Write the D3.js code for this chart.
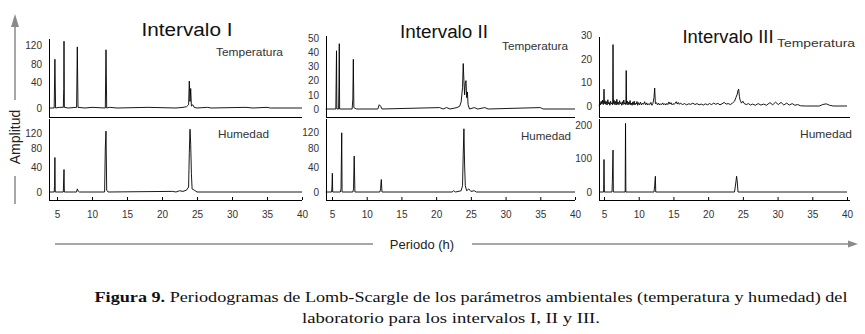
<!DOCTYPE html>
<html>
<head>
<meta charset="utf-8">
<script src="https://cdn.jsdelivr.net/npm/d3@7"></script>
<style>
  body { margin: 0; background: #fff; }
  text { font-family: "Liberation Sans", Arial, sans-serif; }
</style>
</head>
<body>
<script>
// periodo (h) ticks and panel titles
const periodTicks = [5, 10, 15, 20, 25, 30, 35, 40];
const titles = ["Intervalo I", "Intervalo II", "Intervalo III"];

// amplitude tick labels
const tempTicksI = [0, 40, 80, 120];
const tempTicksII = [0, 10, 20, 30, 40, 50];
const tempTicksIII = [0, 10, 20, 30];
const humTicksI = [0, 40, 80, 120];
const humTicksII = [0, 40, 80, 120];
const humTicksIII = [0, 100, 200];

// periodograms, [periodo, amplitud]
const tempI = [[3.9,0],[4.6,0],[4.7,90],[4.8,0],[5.3,1],[5.9,1],[5.97,30],[6.0,128],[6.05,1],[6.6,0],[7.8,1],
  [7.9,116],[8.0,1],[9.0,0],[10,1],[11.9,0],[11.97,76],[12.0,110],[12.1,0],[12.5,1],[13.6,0],[18,1],[22,0],
  [23,1],[23.5,2],[23.8,5],[23.9,42],[24.0,10],[24.1,30],[24.2,3],[24.4,5],[24.6,1],[25,0],[26.5,1],[27,0],
  [32,1],[33,0],[35,1],[35.5,0],[40,0]];
const humI = [[3.9,0],[4.6,0],[4.65,10],[4.7,60],[4.75,0],[5.9,0],[6.0,36],[6.05,0],[7.8,0],[7.9,5],[8.0,2],
  [8.2,0],[11.8,0],[11.9,80],[12.0,125],[12.1,3],[12.3,0],[21.5,1],[22,0],[22.5,2],[23,1],[23.5,3],[23.8,8],
  [23.9,70],[24.0,130],[24.1,90],[24.2,30],[24.3,5],[24.6,3],[25,0],[40,0]];
const tempII = [[4.1,0],[5.55,0],[5.6,20],[5.65,41],[5.7,0],[5.95,0],[6.0,16],[6.05,46],[6.1,0],[7.9,0],
  [8.0,7],[8.07,35],[8.15,1],[8.5,0],[11.6,0],[11.8,3],[12.0,2],[12.2,0],[20.5,1],[21.0,0],[21.5,1],[22,0],
  [23.0,1],[23.4,2],[23.6,5],[23.8,15],[23.9,32],[24.0,20],[24.1,10],[24.2,18],[24.3,20],[24.4,8],[24.5,12],
  [24.6,3],[24.8,0],[25.5,1],[26,0],[27,1],[27.5,0],[35,1],[35.4,0],[40,0]];
const humII = [[4.1,0],[4.95,0],[5.0,10],[5.05,30],[5.1,0],[6.2,0],[6.3,5],[6.4,118],[6.45,0],[8.0,0],
  [8.1,5],[8.2,63],[8.3,0],[11.9,0],[12.0,5],[12.1,20],[12.2,0],[22.3,0],[22.5,2],[22.8,0],[23.6,2],[23.8,10],
  [23.9,67],[24.0,128],[24.1,44],[24.2,10],[24.4,2],[24.7,5],[25.0,1],[25.5,2],[25.8,0],[40,0]];
const tempIII = [[4.3,0],[4.4,1.5],[4.5,0.5],[4.6,2],[4.7,0.8],[4.8,2.5],[4.9,0.6],[4.95,1],[5.0,7],[5.05,1],
  [5.15,2.2],[5.25,0.7],[5.35,1.8],[5.45,0.4],[5.55,2.6],[5.65,0.9],[5.75,1.5],[5.85,0.3],[5.95,2.0],[6.05,0.8],
  [6.15,1.2],[6.25,0.5],[6.3,26],[6.35,1],[6.45,2.4],[6.55,0.6],[6.65,1.9],[6.75,0.4],[6.85,2.8],[6.95,0.7],
  [7.05,1.6],[7.15,0.5],[7.25,2.2],[7.35,0.9],[7.45,1.4],[7.55,0.3],[7.65,1.8],[7.75,0.6],[7.85,2.5],[7.95,0.8],
  [8.05,1.3],[8.15,0.5],[8.2,15],[8.25,1],[8.35,2.1],[8.45,0.4],[8.55,1.6],[8.65,0.7],[8.75,2.3],[8.85,0.5],
  [8.95,1.2],[9.05,0.3],[9.15,1.7],[9.25,0.6],[9.35,2.0],[9.45,0.4],[9.55,1.1],[9.65,0.8],[9.75,1.9],[9.85,0.3],
  [9.95,1.4],[10.1,0.5],[10.25,1.6],[10.4,0.4],[10.55,1.2],[10.7,0.7],[10.85,1.8],[11.0,0.5],[11.15,1.3],
  [11.3,0.4],[11.45,1.0],[11.6,0.6],[11.75,1.5],[11.9,0.3],[12.05,1.1],[12.2,3.5],[12.3,7.5],[12.4,1],
  [12.55,1.4],[12.7,0.5],[12.85,1.2],[13.0,0.4],[13.15,0.9],[13.3,0.6],[13.45,1.3],[13.6,0.5],[13.75,1.0],
  [13.9,0.4],[14.05,1.1],[14.2,0.6],[14.35,1.7],[14.5,0.8],[14.65,1.4],[14.8,0.5],[14.95,1.0],[15.1,0.6],
  [15.25,1.2],[15.4,1.8],[15.55,0.8],[15.7,1.5],[15.85,0.7],[16.0,1.2],[16.3,0.6],[16.6,1.0],[16.9,0.5],
  [17.2,0.9],[17.5,0.7],[17.8,1.2],[18.1,0.6],[18.4,1.0],[18.7,0.5],[19.0,0.8],[19.3,0.4],[19.6,0.9],[19.9,0.5],
  [20.2,1.0],[20.5,0.6],[20.8,1.2],[21.1,0.7],[21.4,1.1],[21.7,0.5],[22.0,0.9],[22.3,1.5],[22.6,0.8],[22.9,1.0],
  [23.2,0.6],[23.5,1.2],[23.8,2.0],[24.0,3.5],[24.2,5],[24.3,6.5],[24.4,7],[24.5,4],[24.6,2.5],[24.8,1.2],
  [25.0,2.0],[25.2,1.0],[25.5,0.6],[25.8,1.0],[26.1,0.4],[26.4,0.8],[26.8,0.3],[27.2,1.0],[27.6,0.4],[28.0,0.8],
  [28.4,0.3],[28.9,1.4],[29.3,0.5],[29.7,1.6],[30.1,0.6],[30.5,1.5],[30.9,0.4],[31.3,1.2],[31.7,0.4],[32.1,1.0],
  [32.5,0.3],[32.9,0.6],[33.3,0.1],[34,0],[36,0],[36.5,0.6],[37.0,0.9],[37.5,0.3],[38,0],[40,0]];
const humIII = [[4.3,0],[4.95,0],[5.0,97],[5.05,0],[6.15,0],[6.2,28],[6.3,125],[6.35,0],[8.05,0],[8.1,205],
  [8.15,0],[12.2,0],[12.3,20],[12.4,47],[12.45,0],[23.8,0],[24.0,30],[24.1,47],[24.2,30],[24.3,0],[40,0]];

const W = 865, H = 334;
const svg = d3.select("body").append("svg").attr("width", W).attr("height", H);

// layout of the three columns
const panels = [
  { title: titles[0], tx: 187, ty: 36, tlen: 91, ax: 49, x5: 57, x40: 302, end: 302,
    temp: tempI, tTicks: tempTicksI, tDom: tempTicksI, tPos: [108, 82, 64, 45], tTop: 39,
    hum: humI, hTicks: humTicksI, hDom: humTicksI, hPos: [192, 167, 148, 133],
    tempLbl: [216, 56, 67], humLbl: [218, 138, 51] },
  { title: titles[1], tx: 444, ty: 38, tlen: 88, ax: 326, x5: 332, x40: 575, end: 575,
    temp: tempII, tTicks: tempTicksII, tDom: [0, 50], tPos: [109, 38], tTop: 36,
    hum: humII, hTicks: humTicksII, hDom: humTicksII, hPos: [192, 167, 148, 132],
    tempLbl: [502, 50, 66], humLbl: [521, 140, 50] },
  { title: titles[2], tx: 728, ty: 43, tlen: 91, ax: 599, x5: 604, x40: 847, end: 850,
    temp: tempIII, tTicks: tempTicksIII, tDom: tempTicksIII, tPos: [106, 82, 59, 35], tTop: 37,
    hum: humIII, hTicks: humTicksIII, hDom: [0, 200], hPos: [192, 125],
    tempLbl: [777, 47, 78], humLbl: [800, 138, 52] }
];

const TOP_BOTTOM = 117, BOT_TOP = 119, BOT_AXIS = 200;

panels.forEach(function(p) {
  var x = d3.scaleLinear().domain([5, 40]).range([p.x5, p.x40]);
  var yT = d3.scaleLinear().domain(p.tDom).range(p.tPos);
  var yH = d3.scaleLinear().domain(p.hDom).range(p.hPos);
  var g = svg.append("g");

  // frames
  g.append("line").attr("x1", p.ax).attr("x2", p.ax).attr("y1", p.tTop).attr("y2", TOP_BOTTOM);
  g.append("line").attr("x1", p.ax).attr("x2", p.end).attr("y1", TOP_BOTTOM).attr("y2", TOP_BOTTOM);
  g.append("line").attr("x1", p.ax).attr("x2", p.ax).attr("y1", BOT_TOP).attr("y2", BOT_AXIS);
  g.append("line").attr("x1", p.ax).attr("x2", p.end).attr("y1", BOT_AXIS).attr("y2", BOT_AXIS);
  g.selectAll("line").attr("stroke", "#000").attr("stroke-width", 1).attr("shape-rendering", "crispEdges");

  // y axes
  [[yT, p.tTicks], [yH, p.hTicks]].forEach(function(a) {
    g.append("g").attr("transform", "translate(" + p.ax + ",0)")
      .call(d3.axisLeft(a[0]).tickValues(a[1]).tickSize(0).tickPadding(7))
      .call(function(s) { s.select(".domain").remove(); })
      .attr("font-family", "Liberation Sans, Arial, sans-serif")
      .attr("font-size", 10)
      .selectAll("text").attr("fill", "#333");
  });

  // x axis of the lower plot
  g.append("g").attr("transform", "translate(0," + BOT_AXIS + ")")
    .call(d3.axisBottom(x).tickValues(periodTicks).tickSize(-3).tickPadding(11))
    .call(function(s) { s.select(".domain").remove(); })
    .attr("font-family", "Liberation Sans, Arial, sans-serif")
    .attr("font-size", 10)
    .selectAll("text").attr("fill", "#333");

  // periodograms
  var lineT = d3.line().x(function(d) { return x(d[0]); }).y(function(d) { return yT(d[1]); });
  var lineH = d3.line().x(function(d) { return x(d[0]); }).y(function(d) { return yH(d[1]); });
  g.append("path").attr("d", lineT(p.temp)).attr("fill", "none").attr("stroke", "#000").attr("stroke-width", 0.9);
  g.append("path").attr("d", lineH(p.hum)).attr("fill", "none").attr("stroke", "#000").attr("stroke-width", 0.9);

  // labels
  g.append("text").attr("x", p.tx).attr("y", p.ty).attr("text-anchor", "middle")
    .attr("font-size", 18).attr("textLength", p.tlen).attr("lengthAdjust", "spacingAndGlyphs")
    .attr("fill", "#111").text(p.title);
  g.append("text").attr("x", p.tempLbl[0]).attr("y", p.tempLbl[1]).attr("font-size", 11)
    .attr("textLength", p.tempLbl[2]).attr("lengthAdjust", "spacingAndGlyphs").attr("fill", "#333").text("Temperatura");
  g.append("text").attr("x", p.humLbl[0]).attr("y", p.humLbl[1]).attr("font-size", 11.5)
    .attr("textLength", p.humLbl[2]).attr("lengthAdjust", "spacingAndGlyphs").attr("fill", "#333").text("Humedad");
});

// shared axis titles with arrows
const grey = "#8a8a8a";
svg.append("line").attr("x1", 15).attr("x2", 15).attr("y1", 100).attr("y2", 24).attr("stroke", grey).attr("stroke-width", 1.5);
svg.append("line").attr("x1", 15).attr("x2", 15).attr("y1", 176).attr("y2", 204).attr("stroke", grey).attr("stroke-width", 1.5);
svg.append("path").attr("d", "M11,27 L15,14 L19,27 Z").attr("fill", grey);
svg.append("text").attr("transform", "translate(20,137) rotate(-90)").attr("text-anchor", "middle")
  .attr("font-size", 14).attr("fill", "#222").text("Amplitud");

svg.append("line").attr("x1", 55).attr("x2", 373).attr("y1", 244).attr("y2", 244).attr("stroke", grey).attr("stroke-width", 1.5);
svg.append("line").attr("x1", 472).attr("x2", 850).attr("y1", 244).attr("y2", 244).attr("stroke", grey).attr("stroke-width", 1.5);
svg.append("path").attr("d", "M848,240.5 L858,244 L848,247.5 Z").attr("fill", grey);
svg.append("text").attr("x", 422).attr("y", 249).attr("text-anchor", "middle")
  .attr("font-size", 13).attr("fill", "#222").text("Periodo (h)");

// caption
const cap = svg.append("text").attr("x", 471).attr("y", 302).attr("text-anchor", "middle")
  .attr("font-size", 15.5).attr("textLength", 753).attr("lengthAdjust", "spacingAndGlyphs")
  .style("font-family", "Liberation Serif, Times New Roman, serif").attr("fill", "#111");
cap.append("tspan").attr("font-weight", "bold").text("Figura 9.");
cap.append("tspan").text(" Periodogramas de Lomb-Scargle de los parámetros ambientales (temperatura y humedad) del");
svg.append("text").attr("x", 451).attr("y", 323).attr("text-anchor", "middle")
  .attr("font-size", 15.5).attr("textLength", 298).attr("lengthAdjust", "spacingAndGlyphs")
  .style("font-family", "Liberation Serif, Times New Roman, serif").attr("fill", "#111")
  .text("laboratorio para los intervalos I, II y III.");
</script>
</body>
</html>
